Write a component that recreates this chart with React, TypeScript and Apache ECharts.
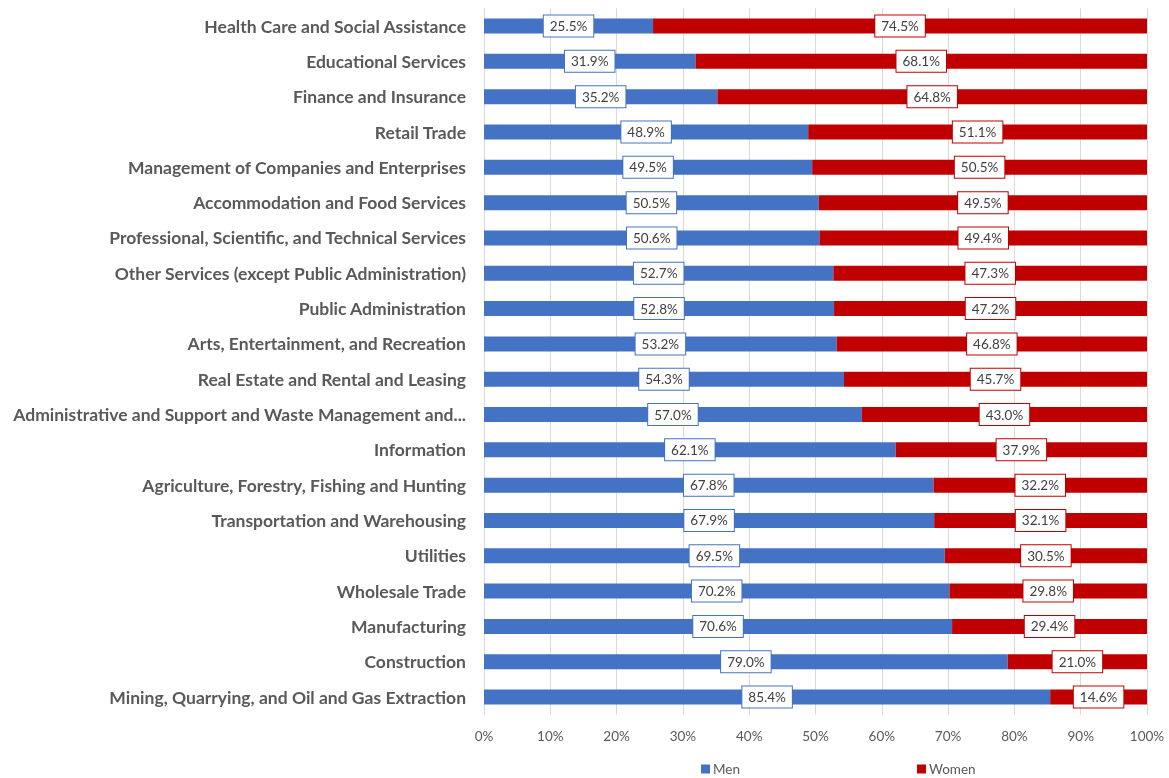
import React, { useEffect, useRef } from "react";
import * as echarts from "echarts";

const categories = [
  "Health Care and Social Assistance",
  "Educational Services",
  "Finance and Insurance",
  "Retail Trade",
  "Management of Companies and Enterprises",
  "Accommodation and Food Services",
  "Professional, Scientific, and Technical Services",
  "Other Services (except Public Administration)",
  "Public Administration",
  "Arts, Entertainment, and Recreation",
  "Real Estate and Rental and Leasing",
  "Administrative and Support and Waste Management and Remediation Services",
  "Information",
  "Agriculture, Forestry, Fishing and Hunting",
  "Transportation and Warehousing",
  "Utilities",
  "Wholesale Trade",
  "Manufacturing",
  "Construction",
  "Mining, Quarrying, and Oil and Gas Extraction",
];

const menValues = [
  25.5, 31.9, 35.2, 48.9, 49.5, 50.5, 50.6, 52.7, 52.8, 53.2, 54.3, 57.0, 62.1,
  67.8, 67.9, 69.5, 70.2, 70.6, 79.0, 85.4,
];

const womenValues = [
  74.5, 68.1, 64.8, 51.1, 50.5, 49.5, 49.4, 47.3, 47.2, 46.8, 45.7, 43.0, 37.9,
  32.2, 32.1, 30.5, 29.8, 29.4, 21.0, 14.6,
];

const seriesNames = ["Men", "Women"];

const FONT = "Lato, 'Liberation Sans', sans-serif";

export default function App() {
  const ref = useRef<HTMLDivElement>(null);

  useEffect(() => {
    if (!ref.current) return;
    const chart = echarts.init(ref.current, undefined, { renderer: "svg" });

    const makeLabel = (color: string) => ({
      show: true,
      position: "inside",
      formatter: (p: any) => `${Number(p.value).toFixed(1)}%`,
      color: "#404040",
      fontSize: 13.5,
      fontFamily: FONT,
      backgroundColor: "#ffffff",
      borderColor: color,
      borderWidth: 1,
      padding: [4, 6, 3, 6],
    });

    chart.setOption({
      animation: false,
      textStyle: { fontFamily: FONT },
      grid: {
        left: 484,
        right: 22,
        top: 8.4,
        bottom: 63.3,
        containLabel: false,
        outerBoundsMode: "none",
      },
      legend: {
        data: seriesNames,
        left: 696,
        top: 757,
        itemWidth: 9,
        itemHeight: 9,
        itemGap: 177,
        icon: "rect",
        textStyle: {
          color: "#595959",
          fontSize: 13.5,
          lineHeight: 14,
          fontFamily: FONT,
          padding: [0, 0, 0, -2],
        },
      },
      xAxis: {
        type: "value",
        min: 0,
        max: 100,
        interval: 10,
        axisLine: { show: false },
        axisTick: { show: false },
        splitLine: { show: true, lineStyle: { color: "#d9d9d9", width: 1 } },
        axisLabel: {
          formatter: "{value}%",
          color: "#595959",
          fontSize: 13.5,
          fontFamily: FONT,
          margin: 14,
        },
      },
      yAxis: {
        type: "category",
        inverse: true,
        data: categories,
        axisLine: { show: true, lineStyle: { color: "#d9d9d9" } },
        axisTick: { show: false },
        axisLabel: {
          color: "#595959",
          fontSize: 17.5,
          fontWeight: "bold",
          fontFamily: FONT,
          margin: 18,
          formatter: (v: string) => (v.length > 55 ? v.slice(0, 51) + "..." : v),
        },
      },
      series: [
        {
          name: seriesNames[0],
          type: "bar",
          stack: "total",
          data: menValues,
          barWidth: 15,
          itemStyle: { color: "#4472C4" },
          label: makeLabel("#4472C4"),
        },
        {
          name: seriesNames[1],
          type: "bar",
          stack: "total",
          data: womenValues,
          barWidth: 15,
          itemStyle: { color: "#C00000" },
          label: makeLabel("#C00000"),
        },
      ],
    });

    return () => chart.dispose();
  }, []);

  return (
    <div
      ref={ref}
      style={{ position: "fixed", left: 0, top: 0, width: 1169, height: 778 }}
    />
  );
}
